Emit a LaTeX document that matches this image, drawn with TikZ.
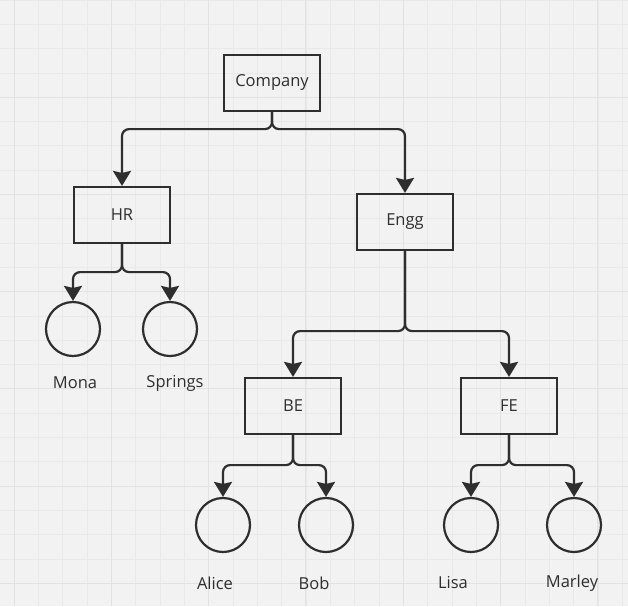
\documentclass[tikz,border=0pt]{standalone}
\usepackage{fontspec}
\setmainfont{Open Sans}
\usetikzlibrary{
  arrows.meta,
  positioning
}
\definecolor{ink}{HTML}{2E2E2E}
\definecolor{paper}{HTML}{F2F2F2}
\definecolor{gridminor}{HTML}{E9E9E9}
\definecolor{gridmajor}{HTML}{E2E2E2}
\tikzset{
  >={Stealth[length=15pt,width=18pt,inset=2pt]},
  every node/.style={text=ink, font=\fontsize{16.5}{20}\selectfont},
  dept/.style={draw=ink, line width=2.2pt, minimum width=96pt, minimum height=56pt},
  person/.style={circle, draw=ink, line width=2.2pt, minimum size=54pt},
  link/.style={->, draw=ink, line width=2.2pt, rounded corners=7pt}
}

\begin{document}
\begin{tikzpicture}[x=1pt, y=-1pt]
    \useasboundingbox (0,0) rectangle (628,606);
    % background grid
    \begin{scope}
      \clip (0,0) rectangle (628,606);
      \fill[paper] (0,0) rectangle (628,606);
      \foreach \i in {0,...,26}
        \draw[gridminor, line width=0.8pt] ({14+24.33*(\i-1)},0) -- ++(0,606);
      \foreach \i in {0,...,25}
        \draw[gridminor, line width=0.8pt] (0,{24.3*\i}) -- ++(628,0);
      \foreach \i in {0,...,6}
        \draw[gridmajor, line width=1pt] ({14+97.3*\i},0) -- ++(0,606);
      \foreach \i in {1,...,6}
        \draw[gridmajor, line width=1pt] (0,{97.2*\i}) -- ++(628,0);
    \end{scope}

    \node[dept] (company) at (272,83)  {Company};
    \node[dept] (hr)      at (122,215) {HR};
    \node[dept] (engg)    at (405,222) {Engg};
    \node[dept] (be)      at (293,406) {BE};
    \node[dept] (fe)      at (509,406) {FE};

    \node[person] (mona)    at (73,329)  {};
    \node[person] (springs) at (170,329) {};
    \node[person] (alice)   at (223,525) {};
    \node[person] (bob)     at (326,525) {};
    \node[person] (lisa)    at (471,525) {};
    \node[person] (marley)  at (574,525) {};

    \node (monaL)    at (75,383)  {Mona};
    \node (springsL) at (175,383) {Springs};
    \node (aliceL)   at (215,583) {Alice};
    \node (bobL)     at (314,583) {Bob};
    \node (lisaL)    at (453,583) {Lisa};
    \node (marleyL)  at (572,583) {Marley};

    \draw[link] (company.south) -- ++(0,17) -| (hr.north);
    \draw[link] (company.south) -- ++(0,17) -| (engg.north);
    \draw[link] (hr.south) -- ++(0,28) -| (mona.north);
    \draw[link] (hr.south) -- ++(0,28) -| (springs.north);
    \draw[link] (engg.south) -- ++(0,80) -| (be.north);
    \draw[link] (engg.south) -- ++(0,80) -| (fe.north);
    \draw[link] (be.south) -- ++(0,30) -| (alice.north);
    \draw[link] (be.south) -- ++(0,30) -| (bob.north);
    \draw[link] (fe.south) -- ++(0,30) -| (lisa.north);
    \draw[link] (fe.south) -- ++(0,30) -| (marley.north);
\end{tikzpicture}
\end{document}
